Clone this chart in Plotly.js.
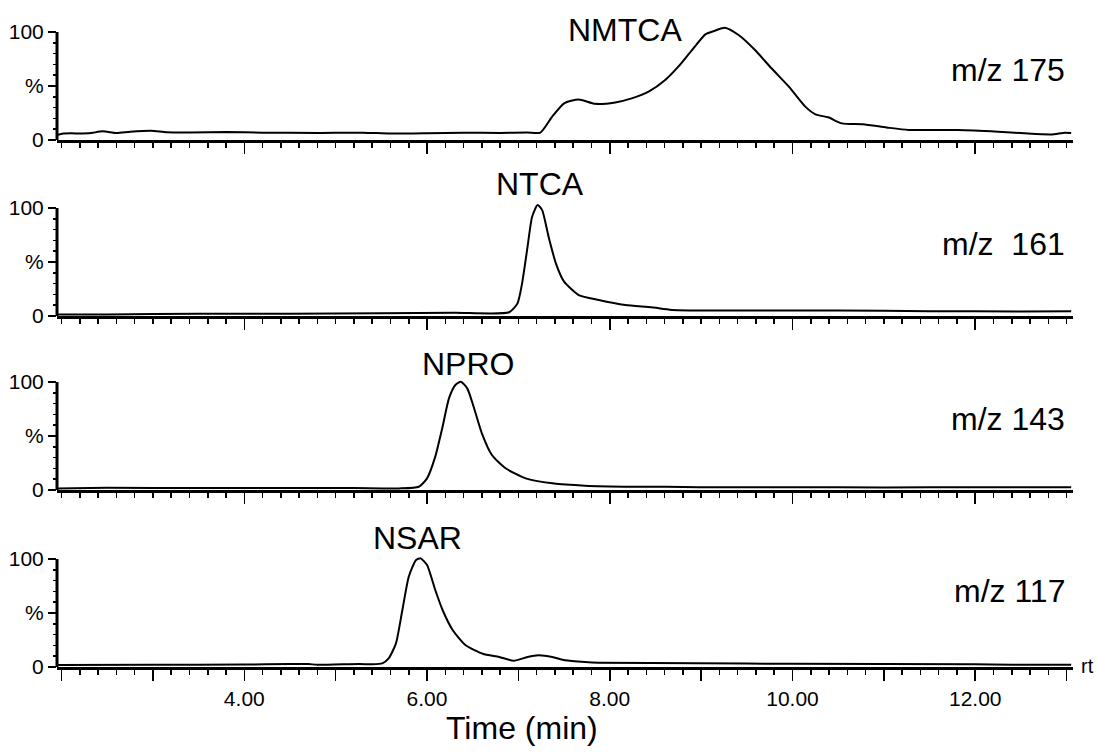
<!DOCTYPE html>
<html>
<head>
<meta charset="utf-8">
<script src="https://cdn.plot.ly/plotly-3.0.1.min.js"></script>
<style>html,body{margin:0;padding:0;background:#fff;}#chart{width:1098px;height:753px;}</style>
</head>
<body>
<div id="chart"></div>
<script>
// ---- data (time in min, relative intensity in %) ----
const nmtcaTime = [1.95,2.02,2.3,2.45,2.6,2.75,2.98,3.15,3.4,3.8,4.2,4.8,5.3,5.6,6.0,6.4,6.8,7.1,7.24,7.37,7.50,7.66,7.84,8.06,8.24,8.43,8.60,8.75,8.90,9.05,9.15,9.26,9.41,9.59,9.77,9.96,10.14,10.25,10.39,10.54,10.77,11.03,11.27,11.81,12.25,12.54,12.83,12.98,13.05];
const nmtcaInt  = [4.6,6.0,6.2,8.0,6.4,7.6,8.6,7.2,7.0,7.4,6.8,6.5,6.8,6.0,6.3,6.8,6.5,6.9,6.8,21.6,34.0,37.6,33.5,34.8,38.5,45.0,55.0,67.9,83.3,98.0,101.2,104.0,97.2,83.3,66.4,49.4,30.9,23.8,21.0,15.4,14.5,11.6,9.3,9.3,7.7,6.2,5.2,6.8,6.5];

const ntcaTime = [1.95,2.5,3.5,4.5,5.5,6.3,6.90,6.99,7.04,7.10,7.15,7.21,7.26,7.33,7.41,7.50,7.66,7.88,8.17,8.46,8.68,9.41,10.5,11.5,12.5,13.05];
const ntcaInt  = [1.5,1.5,2.0,2.0,2.5,3.0,3.5,11.7,30.0,64.0,91.9,102.8,98.0,73.5,48.8,31.8,19.4,14.8,10.2,8.0,5.6,5.0,5.0,4.5,4.2,4.3];

const nproTime = [1.95,2.5,3.5,4.5,5.2,5.69,5.91,6.00,6.09,6.17,6.24,6.31,6.37,6.44,6.51,6.60,6.71,6.86,7.08,7.37,7.73,8.24,8.61,8.97,10.0,11.0,12.0,13.05];
const nproInt  = [1.5,2.0,1.8,1.8,1.8,1.5,3.0,10.8,30.9,58.6,84.9,97.2,100.3,94.1,77.1,52.5,32.4,20.1,10.8,6.2,4.0,3.1,3.1,2.5,2.5,2.4,2.5,2.5];

const nsarTime = [1.95,3.0,4.0,4.5,4.7,4.8,5.26,5.40,5.51,5.58,5.66,5.73,5.80,5.88,5.93,6.00,6.09,6.17,6.28,6.42,6.61,6.79,6.95,7.10,7.22,7.37,7.51,7.73,7.88,8.97,10.0,12.0,12.4,13.05];
const nsarInt  = [1.9,2.0,2.2,2.8,2.8,2.0,2.8,2.5,3.4,8.0,21.9,52.8,83.6,99.1,100.6,94.4,71.3,52.8,34.3,20.4,12.3,9.3,5.8,9.3,10.8,9.3,6.2,4.6,4.0,3.4,3.0,2.5,2.0,2.0];

const compounds = ["NMTCA","NTCA","NPRO","NSAR"];
const massLabels = ["m/z 175","m/z\u00a0 161","m/z 143","m/z 117"];
const yTickVals = [0,50,100];
const yTickText = ["0","%","100"];
const xTickVals = [2,3,4,5,6,7,8,9,10,11,12,13];
const xTickText = ["","","4.00","","6.00","","8.00","","10.00","","12.00",""];

// ---- layout geometry (pixels) ----
const W = 1098, H = 753;
const xLeft = 57, xRight = 1073;
const zeroPx = [140, 316, 490, 667];   // pixel row of 0 %
const pxPer100 = 108;
const yMax = 106;
const font = "Liberation Sans, Arial, sans-serif";

const series = [[nmtcaTime,nmtcaInt],[ntcaTime,ntcaInt],[nproTime,nproInt],[nsarTime,nsarInt]];
const data = [];
const layout = {
  width: W, height: H, margin:{l:0,r:0,t:0,b:0},
  paper_bgcolor:"#fff", plot_bgcolor:"#fff", showlegend:false,
  font:{family:font, color:"#000"},
  annotations:[], shapes:[]
};
const px = x => x / W, py = y => 1 - y / H;

for (let i = 0; i < 4; i++) {
  const sfx = i === 0 ? "" : String(i+1);
  data.push({
    x: series[i][0], y: series[i][1], type:"scatter", mode:"lines",
    line:{color:"#000", width:2, shape:"spline", smoothing:0.6},
    xaxis:"x"+sfx, yaxis:"y"+sfx, hoverinfo:"skip"
  });
  const bottom = zeroPx[i], top = zeroPx[i] - yMax * pxPer100 / 100;
  layout["yaxis"+sfx] = {
    domain:[py(bottom), py(top)], range:[0,yMax], anchor:"x"+sfx,
    showgrid:false, zeroline:false, showline:false,
    tickmode:"array", tickvals:yTickVals, ticktext:yTickText,
    ticks:"outside", ticklen:8, tickwidth:1.5, tickcolor:"#000",
    tickfont:{size:21, family:font, color:"#000"},
    minor:{tickmode:"linear", tick0:0, dtick:10, ticks:"outside", ticklen:3, tickwidth:1.5, tickcolor:"#000"},
    fixedrange:true
  };
  layout["xaxis"+sfx] = {
    domain:[px(xLeft), px(xRight)], range:[1.95,13.07], anchor:"y"+sfx,
    showgrid:false, zeroline:false, showline:true, linewidth:3, linecolor:"#000",
    tickmode:"array", tickvals:xTickVals, ticktext:xTickText,
    ticks:"outside", ticklen:11, tickwidth:1.5, tickcolor:"#000",
    showticklabels: i === 3,
    tickfont:{size:21, family:font, color:"#000"},
    minor:{tickmode:"linear", tick0:0, dtick:0.2, ticks:"outside", ticklen:5, tickwidth:1.5, tickcolor:"#000"},
    fixedrange:true
  };
  // vertical axis line from 0 to 100 %
  layout.shapes.push({type:"line", xref:"paper", yref:"y"+sfx, x0:px(xLeft), x1:px(xLeft), y0:0, y1:100,
    line:{color:"#000", width:3}});
}

const nameCenters = [[625,30],[540,184],[468,364],[417,538]];
const massCenters = [70,244,419,591];
for (let i = 0; i < 4; i++) {
  layout.annotations.push({xref:"paper", yref:"paper", x:px(nameCenters[i][0]), y:py(nameCenters[i][1]),
    xanchor:"center", yanchor:"middle", text:compounds[i], showarrow:false,
    font:{size:32, family:font, color:"#000"}});
  layout.annotations.push({xref:"paper", yref:"paper", x:px(1067), y:py(massCenters[i]),
    xanchor:"right", yanchor:"middle", text:massLabels[i], showarrow:false,
    font:{size:32, family:font, color:"#000"}});
}
layout.annotations.push({xref:"paper", yref:"paper", x:px(522), y:py(728), xanchor:"center", yanchor:"middle",
  text:"Time (min)", showarrow:false, font:{size:32, family:font, color:"#000"}});
layout.annotations.push({xref:"paper", yref:"paper", x:px(1087), y:py(666), xanchor:"center", yanchor:"middle",
  text:"rt", showarrow:false, font:{size:20, family:font, color:"#000"}});

Plotly.newPlot("chart", data, layout, {displayModeBar:false, staticPlot:true});
</script>
</body>
</html>
